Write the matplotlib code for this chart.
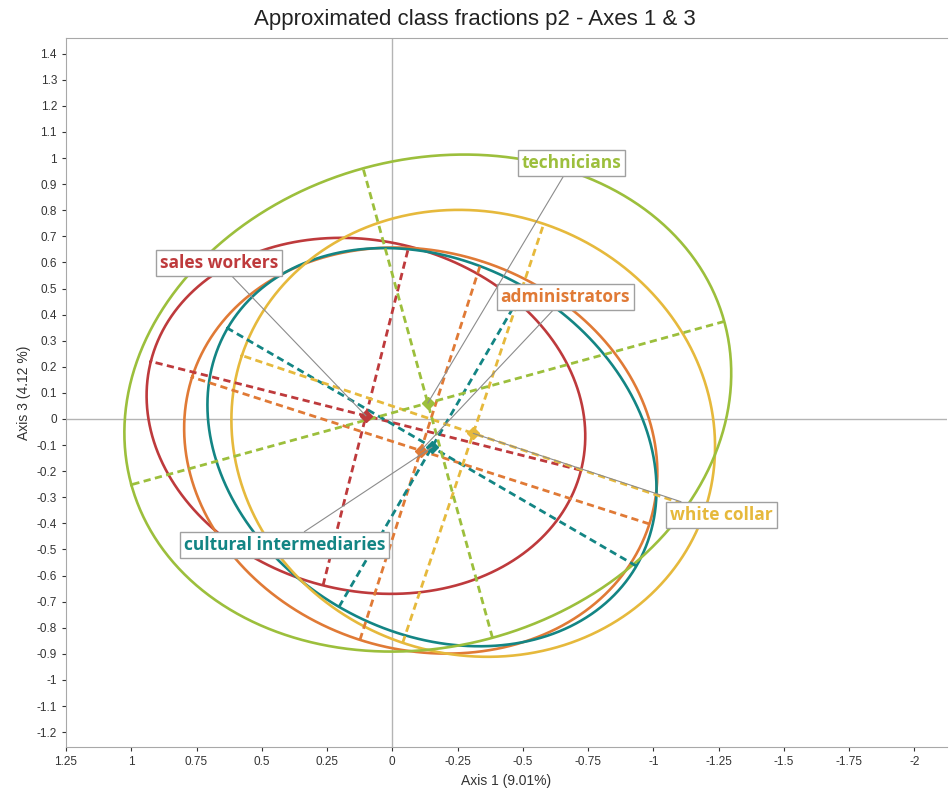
import numpy as np
import matplotlib
matplotlib.use("Agg")
import matplotlib.pyplot as plt

# class fractions: centre, semi-axes and orientation of each concentration ellipse
classes = ["sales workers", "administrators", "cultural intermediaries", "white collar", "technicians"]
colors = ["#BE3A3C", "#E07A36", "#138584", "#E6B93C", "#9CBF3C"]
center_x = [0.101, -0.109, -0.152, -0.310, -0.136]
center_y = [0.012, -0.121, -0.108, -0.055, 0.061]
semi_major = [0.850, 0.920, 0.906, 0.935, 1.178]
semi_minor = [0.670, 0.762, 0.708, 0.847, 0.933]
angle_deg = [14.2, 17.8, 30.2, 18.6, -15.4]

# label box positions (axis 1, axis 3)
label_x = [0.663, -0.663, 0.414, -1.261, -0.686]
label_y = [0.598, 0.467, -0.483, -0.368, 0.981]

x_ticks = np.arange(1.25, -2.01, -0.25)
y_ticks = np.arange(-1.2, 1.41, 0.1)

fig = plt.figure(figsize=(9.49, 7.94), dpi=100)
ax = fig.add_axes([66 / 949, 47 / 794, 881 / 949, 709 / 794])

ax.axhline(0, color="#B4B4B4", lw=1, zorder=1)
ax.axvline(0, color="#B4B4B4", lw=1, zorder=1)

t = np.linspace(0, 2 * np.pi, 400)
for i in range(len(classes)):
    cx, cy = center_x[i], center_y[i]
    a, b = semi_major[i], semi_minor[i]
    th = np.radians(angle_deg[i])
    c, s = np.cos(th), np.sin(th)
    ex = cx + a * c * np.cos(t) - b * s * np.sin(t)
    ey = cy + a * s * np.cos(t) + b * c * np.sin(t)
    ax.plot(ex, ey, color=colors[i], lw=1.9, zorder=3)
    # principal axes
    ax.plot([cx - a * c, cx + a * c], [cy - a * s, cy + a * s],
            color=colors[i], lw=2, dashes=(2.6, 1.6), zorder=4)
    ax.plot([cx + b * s, cx - b * s], [cy - b * c, cy + b * c],
            color=colors[i], lw=2, dashes=(2.6, 1.6), zorder=4)
    ax.plot(cx, cy, marker="D", ms=6, color=colors[i], zorder=6)

for i in range(len(classes)):
    ax.annotate(classes[i], xy=(center_x[i], center_y[i]),
                xytext=(label_x[i], label_y[i]), textcoords="data",
                ha="center", va="center", color=colors[i],
                fontsize=12.5, fontweight="bold", family=["Open Sans", "DejaVu Sans"],
                bbox=dict(boxstyle="square,pad=0.22", fc="white", ec="#A0A0A0", lw=1),
                arrowprops=dict(arrowstyle="-", color="#8C8C8C", lw=0.8,
                                shrinkA=0, shrinkB=0),
                zorder=8)

ax.set_xlim(1.25, -2.125)
ax.set_ylim(-1.257, 1.46)
ax.set_xticks(x_ticks)
ax.set_xticklabels(["%g" % round(v, 2) for v in x_ticks])
ax.set_yticks(y_ticks)
ax.set_yticklabels(["%g" % round(v, 1) for v in y_ticks])
ax.tick_params(labelsize=8.5, colors="#333333", length=3, width=0.8)
for lab in ax.get_xticklabels() + ax.get_yticklabels():
    lab.set_family(["Liberation Sans", "DejaVu Sans"])

for side in ["left", "bottom", "top"]:
    ax.spines[side].set_color("#A8A8A8")
ax.spines["right"].set_visible(False)

ax.set_xlabel("Axis 1 (9.01%)", fontsize=10, color="#333333",
              family=["Liberation Sans", "DejaVu Sans"])
ax.set_ylabel("Axis 3 (4.12 %)", fontsize=10, color="#333333",
              family=["Liberation Sans", "DejaVu Sans"])
fig.text(0.5, 0.976, "Approximated class fractions p2 - Axes 1 & 3", ha="center", va="center",
         fontsize=16, color="#222222", family=["Liberation Sans", "DejaVu Sans"])

fig.savefig("out.png", dpi=100)
